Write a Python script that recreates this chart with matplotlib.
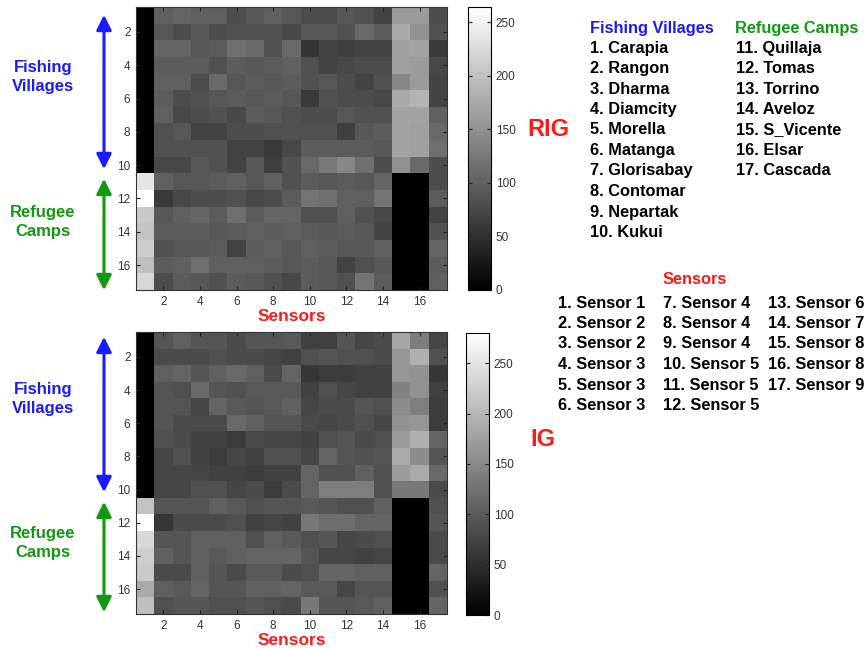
import numpy as np
import matplotlib
matplotlib.use("Agg")
import matplotlib.pyplot as plt

plt.rcParams['font.family'] = ['Liberation Sans', 'DejaVu Sans']

# RIG matrix (rows: locations 1-17, cols: sensors 1-17)
rig = [
    [0, 100, 105, 100, 100, 80, 90, 100, 90, 80, 80, 90, 85, 70, 160, 160, 80],
    [0, 90, 80, 90, 80, 85, 85, 85, 75, 90, 90, 85, 110, 95, 175, 150, 85],
    [0, 105, 105, 90, 95, 115, 110, 85, 110, 55, 70, 65, 70, 70, 165, 170, 60],
    [0, 95, 95, 95, 85, 95, 90, 95, 100, 85, 70, 75, 80, 80, 165, 160, 75],
    [0, 100, 100, 80, 110, 90, 95, 90, 95, 85, 90, 80, 70, 85, 140, 160, 70],
    [0, 95, 80, 85, 90, 95, 90, 95, 90, 60, 85, 80, 80, 75, 175, 185, 70],
    [0, 100, 75, 80, 85, 75, 95, 90, 85, 80, 80, 90, 85, 85, 170, 170, 100],
    [0, 85, 90, 70, 70, 80, 80, 85, 85, 85, 85, 65, 90, 95, 170, 165, 110],
    [0, 85, 85, 85, 85, 70, 70, 60, 75, 95, 95, 95, 95, 90, 170, 165, 115],
    [0, 75, 75, 90, 85, 70, 90, 65, 85, 110, 125, 140, 115, 80, 150, 110, 80],
    [238, 100, 90, 90, 95, 100, 90, 100, 85, 95, 90, 95, 90, 105, 0, 0, 80],
    [264, 60, 75, 80, 80, 85, 75, 80, 95, 120, 115, 100, 100, 120, 0, 0, 95],
    [207, 90, 100, 105, 95, 115, 95, 105, 105, 85, 85, 100, 85, 75, 0, 0, 70],
    [202, 95, 95, 95, 90, 95, 100, 95, 100, 95, 90, 95, 90, 70, 0, 0, 85],
    [212, 85, 90, 90, 95, 70, 95, 100, 90, 100, 95, 90, 90, 100, 0, 0, 105],
    [197, 95, 100, 115, 100, 100, 100, 95, 90, 95, 90, 70, 85, 90, 0, 0, 95],
    [222, 80, 95, 90, 85, 95, 90, 85, 75, 95, 90, 85, 120, 95, 0, 0, 100],
]

# IG matrix
ig = [
    [0, 94, 105, 94, 94, 83, 94, 94, 99, 72, 72, 94, 77, 83, 182, 138, 77],
    [0, 83, 83, 83, 88, 83, 83, 77, 72, 88, 94, 88, 88, 83, 165, 193, 88],
    [0, 105, 110, 94, 105, 116, 105, 83, 110, 61, 66, 66, 72, 72, 165, 160, 61],
    [0, 94, 88, 116, 94, 88, 99, 99, 99, 72, 88, 77, 72, 72, 143, 160, 72],
    [0, 94, 94, 77, 110, 99, 94, 99, 105, 77, 83, 83, 94, 88, 154, 138, 66],
    [0, 94, 83, 83, 83, 116, 105, 94, 94, 83, 77, 83, 88, 77, 160, 165, 66],
    [0, 88, 83, 72, 72, 66, 83, 77, 77, 72, 88, 94, 83, 88, 171, 193, 110],
    [0, 77, 88, 72, 66, 77, 72, 88, 88, 77, 110, 94, 88, 94, 187, 154, 94],
    [0, 77, 77, 77, 72, 72, 66, 72, 72, 110, 88, 88, 105, 88, 171, 187, 116],
    [0, 77, 77, 88, 88, 77, 83, 66, 83, 110, 138, 138, 138, 88, 132, 132, 83],
    [215, 94, 94, 94, 105, 99, 88, 94, 94, 99, 94, 88, 88, 105, 0, 0, 88],
    [280, 61, 83, 83, 83, 88, 72, 77, 72, 132, 121, 121, 110, 110, 0, 0, 94],
    [237, 94, 94, 105, 105, 105, 88, 105, 99, 88, 94, 77, 83, 88, 0, 0, 83],
    [226, 105, 94, 105, 99, 105, 110, 110, 110, 94, 77, 77, 72, 77, 0, 0, 83],
    [220, 83, 83, 105, 94, 83, 99, 99, 83, 88, 110, 110, 105, 105, 0, 0, 110],
    [187, 105, 99, 110, 94, 94, 105, 105, 110, 99, 99, 77, 94, 94, 0, 0, 88],
    [209, 88, 94, 94, 88, 88, 94, 88, 83, 132, 94, 94, 99, 105, 0, 0, 110],
]

villages = ["Carapia", "Rangon", "Dharma", "Diamcity", "Morella", "Matanga",
            "Glorisabay", "Contomar", "Nepartak", "Kukui"]
camps = ["Quillaja", "Tomas", "Torrino", "Aveloz", "S_Vicente", "Elsar", "Cascada"]
sensors = ["Sensor 1", "Sensor 2", "Sensor 2", "Sensor 3", "Sensor 3", "Sensor 3",
           "Sensor 4", "Sensor 4", "Sensor 4", "Sensor 5", "Sensor 5", "Sensor 5",
           "Sensor 6", "Sensor 7", "Sensor 8", "Sensor 8", "Sensor 9"]
ticks = [2, 4, 6, 8, 10, 12, 14, 16]
cbar_ticks = [0, 50, 100, 150, 200, 250]

W, H = 868, 648
fig = plt.figure(figsize=(W / 100, H / 100), dpi=100)


def fx(x):
    return x / W


def fy(y):
    return 1 - y / H


def heat(data, top, bottom, cbtop, cbbot, cbl, cbr):
    arr = np.array(data, dtype=float)
    ax = fig.add_axes([fx(136), fy(bottom), fx(447) - fx(136), fy(top) - fy(bottom)])
    im = ax.imshow(arr, cmap='gray', vmin=0, vmax=arr.max(), aspect='auto',
                   interpolation='nearest',
                   extent=[0.5, 17.5, 17.5, 0.5])
    ax.set_xticks(ticks)
    ax.set_yticks(ticks)
    ax.tick_params(direction='in', length=3, width=0.8, labelsize=8.5,
                   top=True, right=True, colors='#222222', labelcolor='#333333', pad=4)
    for s in ax.spines.values():
        s.set_linewidth(0.8)
        s.set_color('#333333')
    ax.set_xlabel("Sensors", color='#ff1a1a', fontsize=12.5, fontweight='bold', labelpad=1)
    cax = fig.add_axes([fx(cbl), fy(cbbot), fx(cbr) - fx(cbl), fy(cbtop) - fy(cbbot)])
    cb = fig.colorbar(im, cax=cax, ticks=cbar_ticks)
    cb.ax.tick_params(direction='in', length=3, width=0.8, labelsize=8.5,
                      left=True, right=True, colors='#222222', labelcolor='#333333')
    cb.outline.set_linewidth(0.8)
    return ax


heat(rig, 7, 290, 7, 290, 468, 491)
heat(ig, 332, 614, 333, 615, 466, 489)

blue = '#1a1aff'
green = '#119911'
red = '#ff1a1a'


def arrow(x, y0, y1, color):
    fig.add_artist(matplotlib.patches.FancyArrowPatch(
        (fx(x), fy(y0)), (fx(x), fy(y1)), transform=fig.transFigure,
        arrowstyle='<|-|>,head_length=6,head_width=3', color=color, lw=2.2,
        mutation_scale=1.5))


for (ya, yb, yc, yd, t1, t2) in [(12, 172, 176, 293, 77, 222), (334, 495, 499, 615, 399, 543)]:
    arrow(104, ya, yb, blue)
    arrow(104, yc, yd, green)
    fig.text(fx(43), fy(t1), "Fishing\nVillages", color=blue, fontsize=12, fontweight='bold',
             ha='center', va='center', linespacing=1.3)
    fig.text(fx(43), fy(t2), "Refugee\nCamps", color=green, fontsize=12, fontweight='bold',
             ha='center', va='center', linespacing=1.3)

fig.text(fx(527), fy(130), "RIG", color=red, fontsize=17, fontweight='bold', ha='left', va='center')
fig.text(fx(530), fy(440), "IG", color=red, fontsize=17, fontweight='bold', ha='left', va='center')

fs = 11.8
step = 20.5
fig.text(fx(590), fy(28), "Fishing Villages", color=blue, fontsize=fs, fontweight='bold',
         ha='left', va='center')
for i, name in enumerate(villages):
    fig.text(fx(590), fy(48 + i * step), f"{i + 1}. {name}", color='black', fontsize=fs,
             fontweight='bold', ha='left', va='center')
fig.text(fx(735), fy(28), "Refugee Camps", color=green, fontsize=fs, fontweight='bold',
         ha='left', va='center')
for i, name in enumerate(camps):
    fig.text(fx(736), fy(48 + i * step), f"{i + 11}. {name}", color='black', fontsize=fs,
             fontweight='bold', ha='left', va='center')

fig.text(fx(695), fy(280), "Sensors", color=red, fontsize=fs, fontweight='bold',
         ha='center', va='center')
cols_x = [558, 663, 768]
for i, s in enumerate(sensors):
    c, r = divmod(i, 6)
    fig.text(fx(cols_x[c]), fy(303 + r * step), f"{i + 1}. {s}", color='black', fontsize=fs,
             fontweight='bold', ha='left', va='center')

fig.savefig("out.png", dpi=100)
